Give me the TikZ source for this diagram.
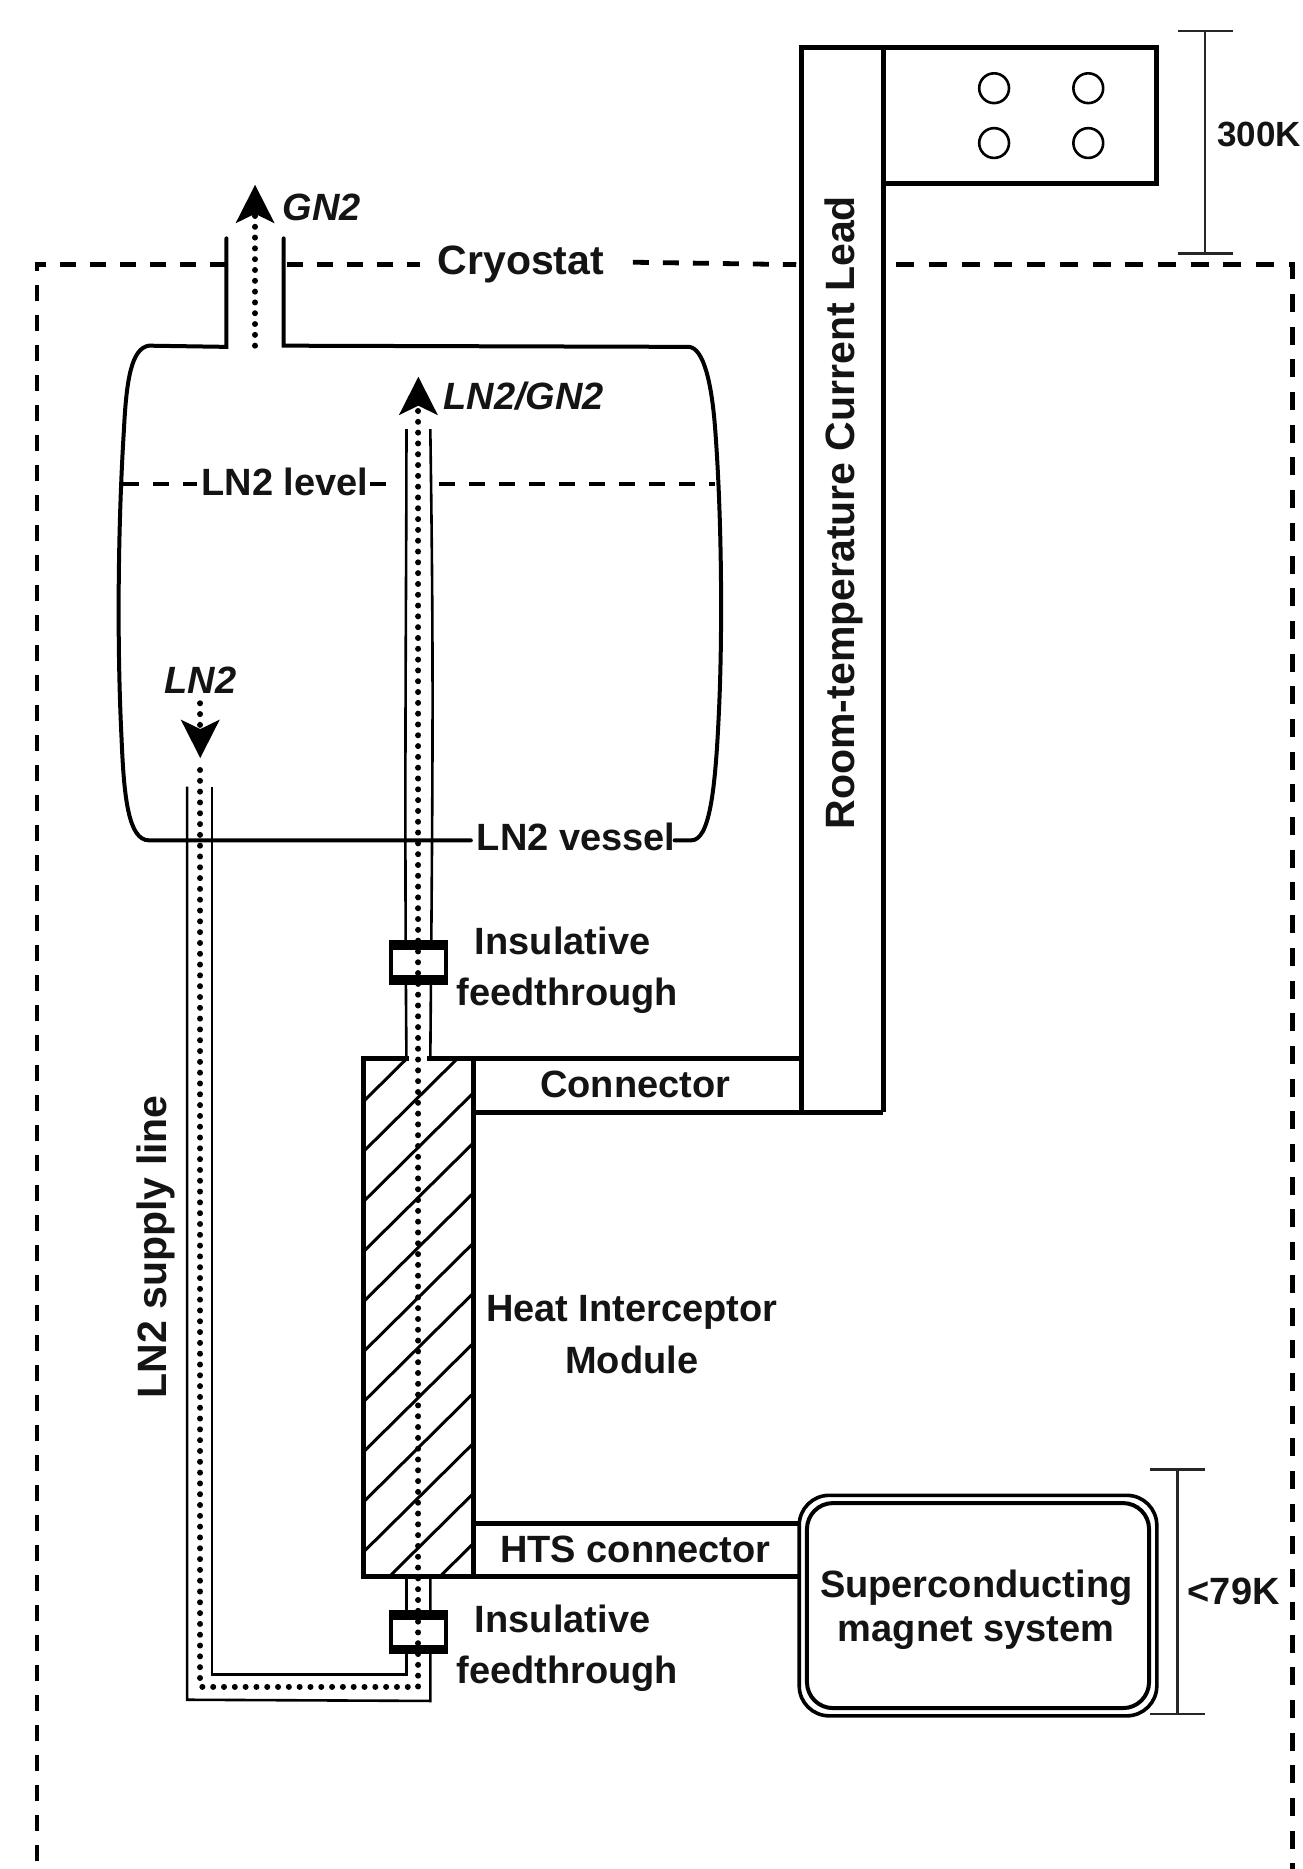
\documentclass[tikz,border=0pt]{standalone}
\usepackage{fontspec}
\setmainfont{Liberation Sans}
\usetikzlibrary{arrows.meta}
\tikzset{
  box/.style={draw=black,line width=5pt,line join=miter,outer sep=0pt},
  thin pipe/.style={draw=black,line width=2.6pt},
  vesselline/.style={draw=black,line width=4pt,line cap=round},
  dotflow/.style={draw=black,line width=6pt,line cap=round,dash pattern=on 0.01pt off 10.8pt},
  headtip/.style={-{Stealth[length=38pt,width=38pt,inset=9pt]}},
  cryo/.style={draw=black,line width=4.8pt,dash pattern=on 18pt off 14.7pt},
  cryofine/.style={draw=black,line width=4.8pt,dash pattern=on 16pt off 14pt},
  dim/.style={draw=black!85,line width=2.8pt},
  lbl/.style={font=\fontsize{38}{38}\selectfont\bfseries,inner sep=0pt,text=black!92},
  lblbig/.style={font=\fontsize{41}{41}\selectfont\bfseries,inner sep=0pt,text=black!92},
  ital/.style={font=\fontsize{38}{38}\selectfont\bfseries\itshape,inner sep=0pt,text=black!92},
}
\begin{document}
\begin{tikzpicture}[x=1.1921pt,y=-1.1921pt]
\useasboundingbox (0,0) rectangle (1093,1568);
% cryostat
\draw[cryofine] (190,222) -- (31,222) -- (31,1568);
\draw[cryofine] (241,222) -- (352,222);
\draw[cryofine] (531,220) -- (668,222);
\draw[cryo] (752,222) -- (1084,222) -- (1084,1568);
% vessel
\draw[vesselline] (190,200) -- (190,291) -- (125,290) .. controls (110,292) and (106,320) .. (104,360) .. controls (99,440) and (98,540) .. (102,620) .. controls (104,670) and (108,705) .. (125,705) -- (395,705);
\draw[vesselline] (238,200) -- (238,290) -- (578,291) .. controls (590,292) and (597,320) .. (600,360) .. controls (606,440) and (606,540) .. (603,600) .. controls (600,665) and (595,705) .. (580,705) -- (566,705);
% LN2 level
\draw[cryofine] (103,406) -- (165,406);
\draw[cryofine] (310,406) -- (328,406);
\draw[cryofine] (368,406) -- (600,406);
% supply pipe
\draw[thin pipe] (341,360) .. controls (341,500) and (339,650) .. (341,890);
\draw[thin pipe] (361,360) .. controls (364,560) and (363,650) .. (361,890);
\draw[thin pipe] (341,1323) -- (341,1405) -- (178,1405) -- (178,660);
\draw[thin pipe] (361,1323) -- (361,1427) -- (157,1426) -- (157,660);
% hatched module
\begin{scope}
\clip (305,888) rectangle (397,1323);
\foreach \k in {0,...,12} \draw[black,line width=3pt] (305,{924+42*\k}) -- (397,{924+42*\k-91});
\end{scope}
\node[box,minimum width=92*1.1921pt,minimum height=435*1.1921pt,inner sep=0pt,anchor=north west] (module) at (305,888) {};
\fill[white] (343.5,885) rectangle (358.5,891);
% connectors
\draw[box] (module.north east) -- (672,888);
\draw[box] (397,933) -- (741,933);
\draw[box] (397,1278) -- (672,1278);
\draw[box] (397,1323) -- (672,1323);
% lead and plate
\draw[box] (672,933) -- (672,40) -- (970,40) -- (970,154) -- (741,154);
\draw[box] (741,40) -- (741,933);
\foreach \cx/\cy/\n in {834/74/a,913/74/b,834/120/c,913/120/d}
  \node[draw=black,line width=2.6pt,circle,minimum size=25*1.1921pt,inner sep=0pt] (hole\n) at (\cx,\cy) {};
% feedthroughs
\fill[black] (326.5,788.5) rectangle (376,826);
\fill[white] (330,797) rectangle (372.5,818);
\fill[black] (326.5,1350.5) rectangle (376,1388);
\fill[white] (330,1359) rectangle (372.5,1380);
% flows
\coordinate (gnA) at (214,290);
\coordinate (gnB) at (214,155);
\draw[dotflow,headtip] (gnA) -- (gnB);
\coordinate (lnA) at (168,590);
\coordinate (lnB) at (168,636);
\draw[dotflow,headtip] (lnA) -- (lnB);
\coordinate (sA) at (168,646);
\coordinate (sB) at (168,1415);
\coordinate (sC) at (351,1415);
\coordinate (sD) at (351,316);
\draw[dotflow,headtip] (sA) -- (sB) -- (sC) -- (sD);
% magnet
\node[draw=black,line width=3.6pt,rounded corners=30pt,minimum width=300*1.1921pt,minimum height=185*1.1921pt,inner sep=0pt,outer sep=0pt,fill=white] (magOut) at (820.5,1347) {};
\node[draw=black,line width=4pt,rounded corners=26pt,minimum width=287*1.1921pt,minimum height=172*1.1921pt,inner sep=0pt,outer sep=0pt] (magIn) at (820.5,1347) {};
% dimensions
\draw[dim] (988,26) -- (1034,26) (988,213) -- (1034,213);
\draw[dim] (1011,26) -- (1011,213);
\draw[dim] (965,1233) -- (1011,1233) (965,1438) -- (1011,1438);
\draw[dim] (988,1233) -- (988,1438);
% labels
\node[lblbig] (cryostat) at (437,222) {Cryostat};
\node[lbl,anchor=west,font=\fontsize{35}{35}\selectfont\bfseries] (t300) at (1021,113) {300K};
\node[lbl] (t79) at (1035,1335) {<79K};
\node[ital,anchor=west] (gn2) at (237,174) {GN2};
\node[ital,anchor=west] (lngn) at (372,332) {LN2/GN2};
\node[ital] (ln2) at (168,571) {LN2};
\node[lbl] (level) at (239,404) {LN2 level};
\node[lbl,anchor=west] (vessel) at (400,702) {LN2 vessel};
\node[lbl] (ins1) at (472,789) {Insulative};
\node[lbl] (fee1) at (476,835) {feedthrough};
\node[lbl] (ins2) at (472,1358) {Insulative};
\node[lbl] (fee2) at (476,1404) {feedthrough};
\node[lbl] (conn) at (533,910) {Connector};
\node[lbl] (heat) at (530,1101) {Heat Interceptor};
\node[lbl] (modl) at (530,1141) {Module};
\node[lbl] (hts) at (533,1300) {HTS connector};
\node[lbl] (sup) at (819,1332) {Superconducting};
\node[lbl] (mag) at (819,1370) {magnet system};
\node[lblbig,rotate=90] (room) at (708,430) {Room-temperature Current Lead};
\node[lblbig,rotate=90] (supply) at (131,1046) {LN2 supply line};
\end{tikzpicture}
\end{document}
